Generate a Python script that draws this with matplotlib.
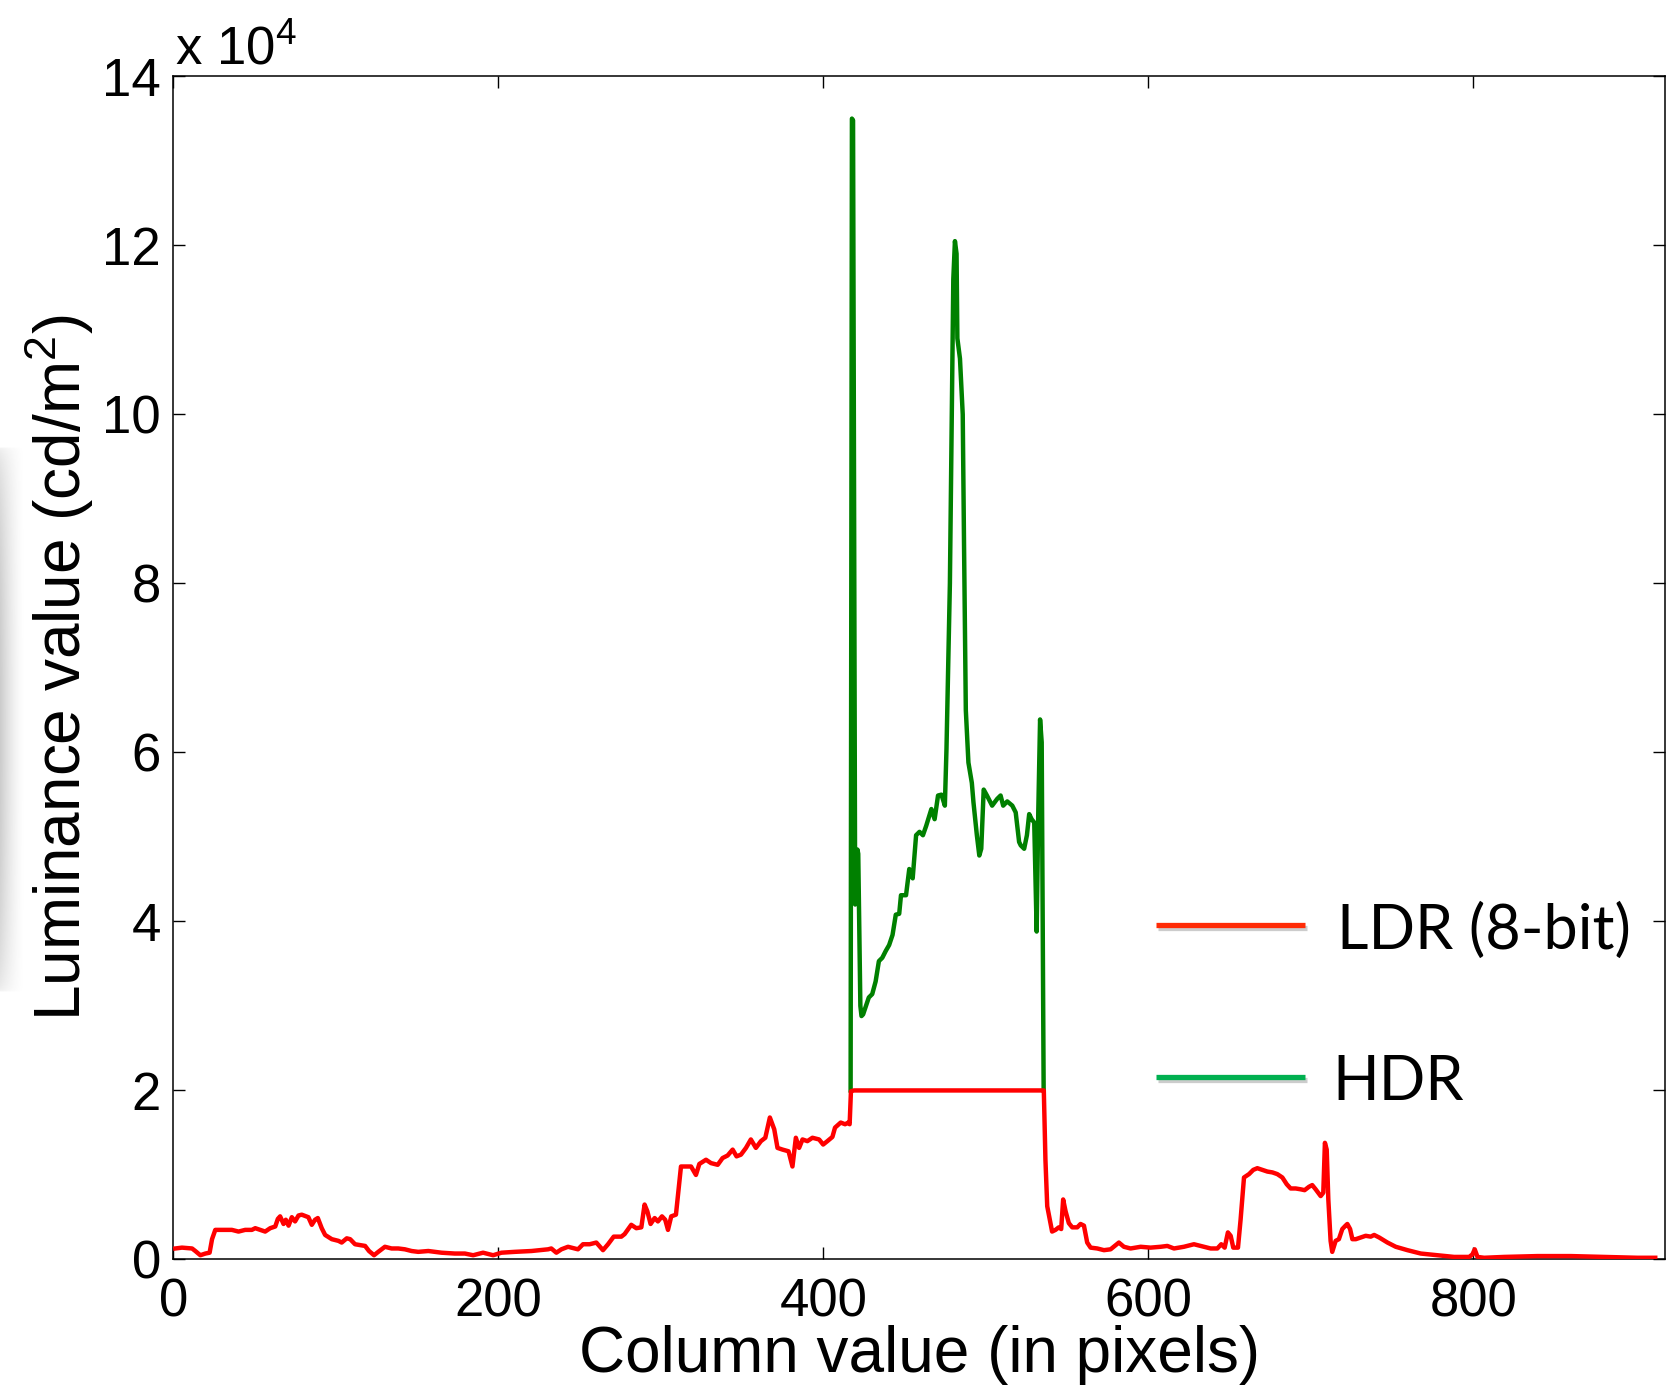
import matplotlib

matplotlib.use("Agg")
import matplotlib.pyplot as plt
import matplotlib.patheffects as pe
import numpy as np

# luminance along one image row, in units of 1e4 cd/m^2
LDR_X = [
    1.2, 5.3, 11.5, 13.5, 16.6, 19.7, 22.3, 23.8, 25.8, 29.9, 36.0, 40.1, 44.2,
    48.3, 50.4, 53.4, 56.5, 59.6, 62.7, 64.3, 65.7, 67.8, 69.2, 70.9, 72.9, 74.9,
    77.0, 79.0, 83.1, 85.2, 87.2, 88.9, 91.3, 93.4, 97.5, 101.6, 103.6, 106.7,
    108.8, 111.8, 114.9, 118.0, 120.4, 123.5, 126.1, 130.2, 134.3, 138.4, 142.5,
    146.6, 150.7, 156.9, 165.0, 173.2, 179.4, 184.5, 190.6, 196.8, 201.9, 210.1,
    220.4, 230.6, 232.6, 235.7, 238.8, 242.9, 249.0, 252.1, 256.2, 260.3, 264.4,
    267.5, 271.0, 275.7, 277.7, 281.8, 284.9, 288.0, 290.0, 291.7, 293.7, 296.2,
    298.2, 300.7, 302.7, 304.4, 306.4, 309.3, 312.4, 315.5, 318.6, 321.6, 323.7,
    327.8, 330.9, 335.0, 338.0, 341.1, 344.2, 346.6, 349.3, 352.4, 355.4, 358.5,
    361.6, 364.3, 367.1, 369.8, 371.8, 374.9, 378.6, 381.0, 383.1, 385.1, 387.2,
    390.2, 393.3, 397.4, 399.9, 402.5, 405.6, 407.2, 410.7, 413.4, 415.4, 416.2,
    417.0, 418.9, 534.7, 535.7, 536.7, 537.8, 539.4, 540.8, 542.9, 544.9, 546.4,
    547.6, 549.1, 551.1, 553.2, 556.3, 558.3, 560.4, 562.4, 564.5, 568.6, 572.7,
    576.8, 581.9, 585.0, 589.1, 595.3, 601.4, 607.6, 611.7, 615.8, 621.9, 628.1,
    632.2, 638.4, 642.5, 644.9, 647.0, 649.0, 650.7, 652.3, 655.2, 656.8, 658.9,
    662.0, 664.6, 667.1, 670.2, 673.3, 676.4, 679.4, 682.5, 685.2, 687.6, 690.7,
    693.8, 696.2, 698.9, 700.9, 703.0, 706.1, 707.7, 708.7, 709.8, 710.8, 712.2,
    713.2, 715.3, 717.3, 719.4, 721.4, 722.5, 724.2, 725.6, 727.7, 730.8, 733.8,
    736.9, 739.0, 742.1, 747.2, 752.3, 759.5, 767.7, 777.9, 788.2, 797.5, 799.5,
    800.9, 802.6, 806.7, 819.0, 839.5, 860.1, 880.6, 901.1, 912.0,
]
LDR_Y = [
    0.13, 0.14, 0.13, 0.10, 0.05, 0.07, 0.08, 0.24, 0.35, 0.35, 0.35, 0.33, 0.35,
    0.35, 0.37, 0.35, 0.33, 0.37, 0.39, 0.48, 0.51, 0.42, 0.47, 0.40, 0.50, 0.45,
    0.52, 0.53, 0.50, 0.41, 0.47, 0.49, 0.37, 0.29, 0.24, 0.22, 0.20, 0.25,
    0.24, 0.18, 0.17, 0.16, 0.10, 0.05, 0.09, 0.15, 0.13, 0.13, 0.12,
    0.10, 0.09, 0.10, 0.08, 0.07, 0.07, 0.05, 0.08, 0.05, 0.08, 0.09,
    0.10, 0.12, 0.13, 0.08, 0.12, 0.15, 0.12, 0.18, 0.18, 0.20, 0.11,
    0.18, 0.27, 0.27, 0.30, 0.41, 0.37, 0.38, 0.65, 0.57, 0.42, 0.49,
    0.45, 0.51, 0.47, 0.35, 0.51, 0.53, 1.10, 1.10, 1.10, 1.00, 1.13,
    1.18, 1.14, 1.12, 1.20, 1.23, 1.30, 1.22, 1.24, 1.32, 1.42, 1.32,
    1.40, 1.44, 1.68, 1.54, 1.32, 1.30, 1.28, 1.10, 1.44, 1.32, 1.42,
    1.40, 1.44, 1.42, 1.36, 1.40, 1.45, 1.56, 1.62, 1.60, 1.62, 1.60,
    1.99, 2.00, 2.00, 2.00, 1.18, 0.63, 0.47, 0.33, 0.35, 0.38, 0.36,
    0.71, 0.57, 0.43, 0.38, 0.38, 0.42, 0.40, 0.20, 0.14, 0.13, 0.11,
    0.12, 0.20, 0.15, 0.13, 0.15, 0.14, 0.15, 0.16, 0.13, 0.15, 0.18,
    0.16, 0.13, 0.13, 0.18, 0.14, 0.32, 0.28, 0.14, 0.14, 0.47, 0.97,
    1.01, 1.06, 1.08, 1.06, 1.04, 1.03, 1.01, 0.97, 0.89, 0.84, 0.84,
    0.83, 0.82, 0.86, 0.88, 0.83, 0.75, 0.79, 1.38, 1.30, 0.71, 0.22,
    0.09, 0.22, 0.24, 0.36, 0.40, 0.42, 0.36, 0.24, 0.24, 0.26, 0.28,
    0.27, 0.29, 0.26, 0.20, 0.15, 0.11, 0.07, 0.05, 0.03, 0.03, 0.06,
    0.12, 0.03, 0.02, 0.03, 0.04, 0.04, 0.03, 0.02, 0.02,
]
# HDR only differs from LDR where the 8-bit capture saturates
HDR_X = [
    416.8, 417.6, 418.3, 419.6, 420.0, 421.0, 421.5, 422.8, 423.5, 424.5, 425.9,
    428.0, 430.1, 432.2, 434.2, 436.3, 438.4, 440.5, 442.6, 444.6, 446.7, 447.8,
    450.9, 452.9, 455.0, 457.1, 459.2, 461.3, 463.3, 466.5, 468.5, 470.6, 472.7,
    474.8, 475.8, 477.9, 480.0, 481.0, 482.0, 482.5, 484.1, 485.8, 486.6, 487.7,
    489.3, 491.4, 492.4, 494.5, 496.0, 497.2, 498.7, 500.7, 503.9, 507.0, 509.1,
    510.7, 513.2, 516.3, 518.4, 520.5, 521.5, 523.6, 525.3, 526.7, 528.2, 529.8,
    531.3, 532.3, 533.4, 534.4, 535.6,
]
HDR_Y = [
    2.00, 13.50, 13.48, 4.20, 4.25, 4.85, 4.80, 3.00, 2.88, 2.90, 2.98,
    3.10, 3.14, 3.29, 3.53, 3.57, 3.65, 3.72, 3.84, 4.08, 4.09, 4.31,
    4.31, 4.62, 4.51, 5.02, 5.06, 5.02, 5.13, 5.33, 5.21, 5.49, 5.50,
    5.37, 6.04, 8.00, 11.60, 12.05, 11.90, 10.90, 10.66, 10.00, 8.46, 6.50,
    5.88, 5.64, 5.41, 5.02, 4.78, 4.86, 5.56, 5.49, 5.37, 5.45, 5.49,
    5.37, 5.42, 5.37, 5.29, 4.94, 4.90, 4.86, 5.02, 5.27, 5.21, 5.17,
    3.88, 5.30, 6.39, 6.12, 2.00,
]
SCALE = 1e4
Y_TICKS = [0, 2, 4, 6, 8, 10, 12, 14]
X_TICKS = [0, 200, 400, 600, 800]
LEGEND = ["LDR (8-bit)", "HDR"]

FONT = "Liberation Sans"


def main():
    plt.rcParams["font.family"] = [FONT, "DejaVu Sans"]
    fig = plt.figure(figsize=(16.67, 13.98), dpi=100)
    ax = fig.add_axes([0.1040, 0.0991, 0.8948, 0.8463])

    ax.plot(HDR_X, np.array(HDR_Y) * SCALE, color="#008000", lw=3.2, zorder=2)
    ax.plot(LDR_X, np.array(LDR_Y) * SCALE, color="#ff0000", lw=3.2, zorder=3)

    ax.set_xlim(0, 918)
    ax.set_ylim(0, 14 * SCALE)
    ax.set_xticks(X_TICKS)
    ax.set_yticks([t * SCALE for t in Y_TICKS])
    ax.set_yticklabels([str(t) for t in Y_TICKS])
    ax.tick_params(direction="in", length=8.5, width=1.0, top=True, right=True,
                   labelsize=38, pad=9)
    ax.tick_params(axis="x", pad=13)
    for s in ax.spines.values():
        s.set_linewidth(1.1)

    ax.text(0.001, 1.01, r"x 10$^{\mathregular{4}}$", transform=ax.transAxes,
            fontsize=38, ha="left", va="baseline")

    ax.set_xlabel("Column value (in pixels)", fontsize=46)
    ax.xaxis.set_label_coords(0.5, -0.055)
    ax.set_ylabel(r"Luminance value (cd/m$^{\mathregular{2}}$)", fontsize=46)
    ax.yaxis.set_label_coords(-0.052, 0.5)

    # slide-style legend drawn over the plot
    shadow = [pe.SimpleLineShadow(offset=(1.5, -2.5), shadow_color="gray", alpha=0.4),
              pe.Normal()]
    for label, col, ly, ty, tx in [(LEGEND[0], "#ff2b06", 0.2827, 0.2624, 0.780),
                                   (LEGEND[1], "#00b050", 0.1542, 0.1348, 0.7767)]:
        ax.plot([0.6588, 0.7587], [ly, ly], transform=ax.transAxes, color=col,
                lw=3.8, solid_capstyle="butt", path_effects=shadow, zorder=4)
        ax.text(tx, ty, label, transform=ax.transAxes, fontsize=44,
                family=["Lato", "DejaVu Sans"], ha="left", va="baseline")

    # faint grey shadow on the left edge of the slide
    sax = fig.add_axes([0, (1398 - 994) / 1398, 24 / 1667, 548 / 1398])
    gx = np.linspace(1, 0, 40) ** 1.5
    gy = np.sin(np.linspace(0, np.pi, 200)) ** 0.3
    rgba = np.zeros((200, 40, 4))
    rgba[..., :3] = 0.55
    rgba[..., 3] = 0.45 * np.outer(gy, gx)
    sax.imshow(rgba, aspect="auto")
    sax.axis("off")

    fig.savefig("out.png", dpi=100)
    plt.close(fig)


if __name__ == "__main__":
    main()
